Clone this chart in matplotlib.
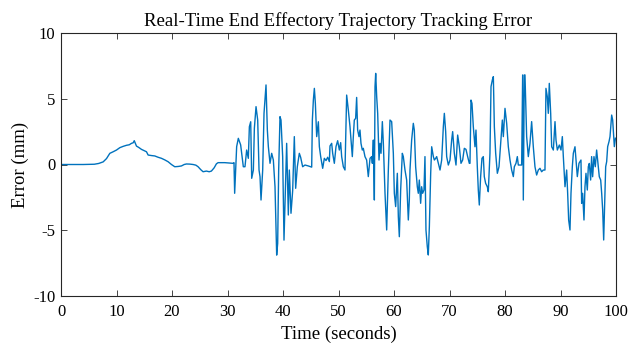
import matplotlib
matplotlib.use("Agg")
import matplotlib.pyplot as plt

# ---- data ----
t = [0, 2, 4, 6.0, 6.8, 7.6, 8.2, 8.8, 9.4, 10.0, 10.6, 11.2, 11.8, 12.3, 12.7, 13.0, 13.2, 13.6,
     14.0, 14.5, 15.0, 15.4, 15.7, 16.3, 16.9, 17.5, 18.1, 18.7, 19.3, 19.9, 20.5, 21.1, 21.7, 22.2,
     22.6, 23.2, 23.8, 24.3, 24.7, 25.2, 25.6, 26.2, 26.7, 27.1, 27.6, 28.0, 28.3, 29.0, 29.5, 30.2,
     31.0, 31.17, 31.29, 31.65, 31.95, 32.37, 32.85, 33.15, 33.45, 33.75, 33.94, 34.18, 34.36, 34.66,
     34.84, 35.14, 35.44, 35.68, 35.86, 36.04, 36.34, 36.58, 36.94, 37.18, 37.36, 37.66, 37.96, 38.26,
     38.56, 38.74, 38.86, 39.04, 39.22, 39.46, 39.64, 39.94, 40.18, 40.66, 40.96, 41.14, 41.44, 41.74,
     42.04, 42.28, 42.58, 42.94, 43.18, 43.54, 43.96, 44.56, 45.17, 45.29, 45.47, 45.65, 45.83, 46.07,
     46.37, 46.55, 46.79, 47.15, 47.45, 47.75, 48.05, 48.35, 48.47, 48.77, 48.95, 49.25, 49.55, 49.85,
     50.15, 50.39, 50.57, 50.87, 51.17, 51.47, 51.77, 52.07, 52.25, 52.49, 52.67, 52.85, 53.09, 53.27,
     53.45, 53.69, 53.87, 54.05, 54.29, 54.47, 54.77, 55.07, 55.37, 55.68, 55.98, 56.1, 56.28, 56.46,
     56.58, 56.7, 56.88, 57.06, 57.3, 57.48, 57.66, 57.9, 58.08, 58.38, 58.68, 58.98, 59.28, 59.58,
     59.88, 60.06, 60.3, 60.6, 60.78, 60.96, 61.2, 61.5, 61.68, 61.98, 62.28, 62.58, 62.76, 62.88,
     63.18, 63.48, 63.66, 63.9, 64.2, 64.38, 64.56, 64.8, 64.98, 65.16, 65.4, 65.58, 65.76, 66.0,
     66.18, 66.37, 66.61, 66.79, 67.09, 67.27, 67.51, 67.69, 67.99, 68.29, 68.59, 68.89, 69.07, 69.31,
     69.49, 69.79, 70.09, 70.39, 70.57, 70.87, 71.17, 71.47, 71.77, 72.07, 72.37, 72.67, 72.97, 73.27,
     73.57, 73.69, 73.87, 74.05, 74.29, 74.59, 74.77, 75.01, 75.19, 75.37, 75.61, 75.85, 76.09, 76.27,
     76.51, 76.81, 76.99, 77.29, 77.48, 77.72, 77.9, 78.08, 78.32, 78.62, 78.92, 79.22, 79.52, 79.7,
     80.0, 80.3, 80.6, 80.9, 81.2, 81.5, 81.68, 81.98, 82.22, 82.4, 82.7, 83.0, 83.18, 83.3, 83.48,
     83.6, 83.9, 84.2, 84.5, 84.8, 85.1, 85.4, 85.7, 86.0, 86.3, 86.6, 86.9, 87.2, 87.38, 87.62, 87.8,
     87.98, 88.23, 88.41, 88.71, 89.01, 89.19, 89.43, 89.79, 90.09, 90.33, 90.51, 90.81, 91.11, 91.29,
     91.47, 91.71, 91.89, 92.13, 92.31, 92.61, 92.79, 93.03, 93.33, 93.51, 93.69, 93.81, 93.99, 94.23,
     94.41, 94.59, 94.83, 95.01, 95.19, 95.43, 95.61, 95.79, 96.03, 96.27, 96.51, 96.69, 96.99, 97.24,
     97.42, 97.6, 97.78, 97.96, 98.14, 98.32, 98.5, 98.74, 98.92, 99.1, 99.22, 99.4, 99.52, 99.7, 99.9]

err = [0.0, 0.0, 0.0, 0.02, 0.08, 0.2, 0.45, 0.85, 0.97, 1.1, 1.28, 1.38, 1.46, 1.5, 1.61, 1.65, 1.81, 1.4,
       1.3, 1.15, 1.05, 0.97, 0.72, 0.68, 0.65, 0.55, 0.47, 0.35, 0.21, 0.0, -0.17, -0.15, -0.11, 0.0,
       0.04, 0.03, 0.0, -0.05, -0.17, -0.4, -0.55, -0.5, -0.55, -0.5, -0.25, 0.05, 0.14, 0.14, 0.14, 0.12,
       0.09, 0.14, -2.19, 1.36, 1.99, 1.49, -0.17, -0.17, 1.1, 0.47, 2.87, 3.25, -1.05, -0.42,
       2.75, 4.4, 3.38, -0.42, -0.93, -2.7, -0.42, 3.89, 6.05, 2.62, 1.36, 0.09, 0.85, 0.34,
       -1.69, -4.99, -6.89, -6.0, -0.42, 3.64, 3.38, 0.6, -5.75, 1.61, -3.84, -0.42, -3.71, -2.0,
       2.12, -1.81, -0.17, 0.85, 0.55, -0.17, -0.04, -0.11, -0.2, 3.38, 4.9, 5.79, 4.65, 2.12,
       3.25, 1.36, 0.6, -0.29, 0.47, 0.3, 0.55, 0.22, 1.41, 1.61, 0.85, 0.09, 1.36, 1.81,
       1.1, 1.66, 0.6, -0.17, -0.42, 5.28, 4.14, 2.88, 1.86, 0.6, 2.12, 3.38, 3.51, 5.1,
       2.62, 2.12, 2.62, 1.61, 1.1, 1.23, 0.6, 0.34, -0.92, 0.47, 0.6, 0.09, 1.86, -2.7,
       5.92, 6.93, 5.16, 3.89, 0.34, 1.61, 0.85, 3.26, 1.61, -2.19, -4.98, -0.42, 3.38, 3.26,
       0.85, -2.19, -3.2, -0.67, -3.97, -5.49, -1.94, 0.85, 0.6, -0.42, -1.18, -4.22, -2.7, -0.42,
       1.86, 3.13, 2.62, -0.17, -1.69, -2.19, -1.18, -2.95, -1.69, -2.19, -1.94, 0.6, -4.98, -6.25,
       -6.88, -4.73, -0.67, 1.35, 0.6, 0.34, 0.47, 0.6, 0.09, -0.42, 0.34, 2.88, 3.89, 2.5,
       0.6, -0.04, 0.34, 1.86, 2.5, 0.85, -0.04, 2.24, 1.35, 0.09, 0.34, 1.23, 1.15, 0.6,
       0.09, 0.09, 4.9, 4.65, 2.88, 1.35, 2.62, -0.17, -1.94, -3.08, -0.92, 0.47, 0.6, -0.92,
       -1.43, -1.69, -2.07, 0.85, 5.92, 6.43, 6.68, 2.88, 0.85, -0.67, -0.17, 1.61, 3.38, 2.12,
       4.27, 3.13, 1.35, 0.34, -0.42, -0.92, -0.17, 0.09, 0.6, -0.04, -0.04, -0.04, 6.81, -2.7, 6.81,
       6.81, 2.12, 0.6, 1.61, 3.26, 1.35, -0.17, -0.8, -0.42, -0.29, -0.55, -0.42, -0.42, 5.79, 5.16, 3.89,
       6.17, 3.89, 1.35, 1.1, 3.26, 1.86, 1.1, 1.48, 1.1, 2.12, 0.6, -1.69, -0.42, -2.19,
       -4.22, -4.98, -2.19, -0.17, 0.85, 1.35, 0.34, -0.92, 0.09, 0.22, 0.34, -2.95, -2.19, -4.22,
       -1.69, -0.67, -1.94, -0.17, 0.08, -1.18, 0.6, -0.93, 0.6, -0.17, 1.1, 0.34, -0.93, -1.18,
       -2.19, -3.46, -5.74, -2.95, -0.17, 0.22, 1.36, 1.74, 2.12, 3.13, 3.76, 3.38, 2.62, 1.36, 2.0]

x_ticks = [0, 10, 20, 30, 40, 50, 60, 70, 80, 90, 100]
y_ticks = [-10, -5, 0, 5, 10]

plt.rcParams['font.family'] = ['Liberation Serif', 'DejaVu Serif']
plt.rcParams['axes.unicode_minus'] = False

fig = plt.figure(figsize=(6.39, 3.47), dpi=100)
ax = fig.add_axes([61/639, 1 - 296/347, 555/639, 263/347])
ax.plot(t, err, color='#0072BD', linewidth=1.0)

ax.set_xlim(0, 100)
ax.set_ylim(-10, 10)
ax.set_xticks(x_ticks)
ax.set_yticks(y_ticks)
ax.tick_params(direction='in', length=4, width=0.6, labelsize=12, top=True, right=True,
               labeltop=False, labelright=False, colors='#262626', labelcolor='black')
ax.tick_params(axis='x', pad=6)
ax.tick_params(axis='y', pad=4)
for s in ax.spines.values():
    s.set_linewidth(0.8)
    s.set_color('#262626')

ax.set_title('Real-Time End Effectory Trajectory Tracking Error', fontsize=13.5, pad=5)
ax.set_xlabel('Time (seconds)', fontsize=13.5, labelpad=4)
ax.set_ylabel('Error (mm)', fontsize=13.5, labelpad=3)

fig.savefig('out.png', dpi=100)
